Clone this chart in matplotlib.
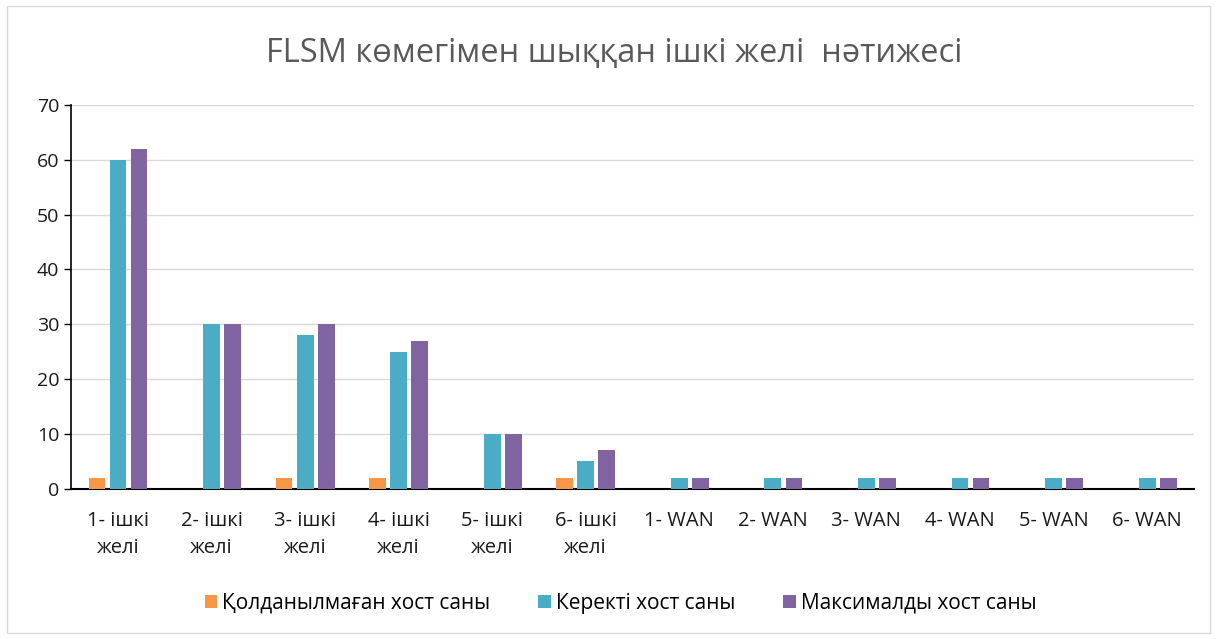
import matplotlib.pyplot as plt
import numpy as np
from matplotlib.patches import Rectangle

plt.rcParams['font.family'] = ['Open Sans', 'Noto Sans', 'DejaVu Sans']

categories = ["1- ішкі\nжелі", "2- ішкі\nжелі", "3- ішкі\nжелі", "4- ішкі\nжелі",
              "5- ішкі\nжелі", "6- ішкі\nжелі", "1- WAN", "2- WAN", "3- WAN",
              "4- WAN", "5- WAN", "6- WAN"]
unused = [2, 0, 2, 2, 0, 2, 0, 0, 0, 0, 0, 0]
needed = [60, 30, 28, 25, 10, 5, 2, 2, 2, 2, 2, 2]
maximum = [62, 30, 30, 27, 10, 7, 2, 2, 2, 2, 2, 2]

series_names = ["Қолданылмаған хост саны", "Керекті хост саны", "Максималды хост саны"]
colors = ["#F79646", "#4BACC6", "#8064A2"]

fig = plt.figure(figsize=(12.17, 6.39), dpi=100)
# chart border
fig.patches.append(Rectangle((0.006, 0.01), 0.988, 0.98, transform=fig.transFigure,
                             fill=False, edgecolor="#d9d9d9", linewidth=1))
ax = fig.add_axes([0.0585, 0.235, 0.9225, 0.601])

x = np.arange(len(categories))
w = 0.18
step = 0.225
for i, (vals, name, c) in enumerate(zip([unused, needed, maximum], series_names, colors)):
    ax.bar(x + (i - 1) * step, vals, width=w, color=c, label=name, zorder=3)

ax.set_xlim(-0.5, len(categories) - 0.5)
ax.set_ylim(0, 70)
ax.set_yticks(range(0, 71, 10))
ax.set_xticks(x)
ax.set_xticklabels(categories, fontsize=14.5, color="#1a1a1a", linespacing=1.45)
ax.tick_params(axis="y", labelsize=14, labelcolor="#1a1a1a", length=5, width=1)
ax.tick_params(axis="x", length=0, pad=16)
ax.grid(axis="y", color="#d9d9d9", linewidth=1, zorder=0)
for s in ["top", "right"]:
    ax.spines[s].set_visible(False)
ax.spines["left"].set_linewidth(1.2)
ax.spines["bottom"].set_linewidth(1.5)

fig.text(0.505, 0.917, "FLSM көмегімен шыққан ішкі желі  нәтижесі", ha="center", va="center",
         fontsize=23.5, color="#595959")

fig.legend(loc="center", bbox_to_anchor=(0.51, 0.056), ncol=3, frameon=False,
           fontsize=15, handlelength=0.6, handleheight=0.6, handletextpad=0.25,
           columnspacing=2.3)

fig.savefig("out.png", dpi=100)
